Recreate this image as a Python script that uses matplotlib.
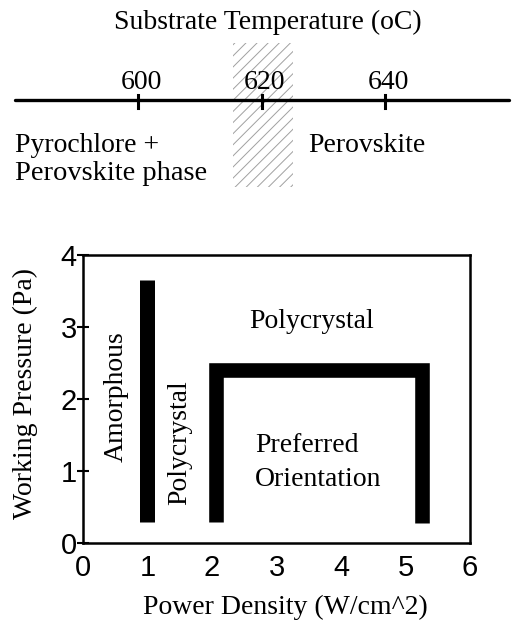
import matplotlib.pyplot as plt
from matplotlib.patches import Rectangle

plt.rcParams['font.family'] = ['Liberation Serif', 'DejaVu Serif']
plt.rcParams['hatch.color'] = '#a0a0a0'
plt.rcParams['hatch.linewidth'] = 0.7

# Substrate temperature scale (top panel)
temp_ticks = [600, 620, 640]
temp_line = [580, 660]
transition_band = [615.3, 625.1]
temp_title = 'Substrate Temperature (oC)'
low_phase = ['Pyrochlore +', 'Perovskite phase']
high_phase = 'Perovskite'

# Deposition map (bottom panel)
x_ticks = [0, 1, 2, 3, 4, 5, 6]
y_ticks = [0, 1, 2, 3, 4]
amorphous_x = [0.985, 0.985]
amorphous_y = [0.29, 3.65]
preferred_x = [2.055, 2.055, 5.26, 5.26]
preferred_y = [0.29, 2.40, 2.40, 0.28]

fig = plt.figure(figsize=(5.16, 6.24), dpi=100)

# ---- top panel: temperature line ----
top = fig.add_axes([0, 1 - 200 / 624, 1, 200 / 624])
top.set_xlim(577.65, 661.2)
top.set_ylim(0, 200)
top.axis('off')
top.plot(temp_line, [100, 100], color='black', lw=2.4, solid_capstyle='round')
for t in temp_ticks:
    top.plot([t, t], [92, 105], color='black', lw=2.2)
    top.text(t + 0.5, 105, str(t), ha='center', va='bottom', fontsize=20)
top.text(621, 178, temp_title, ha='center', va='center', fontsize=20)
top.add_patch(Rectangle((transition_band[0], 13), transition_band[1] - transition_band[0], 144,
                        facecolor='none', edgecolor='#a0a0a0', lw=0, hatch='///', zorder=0))
top.text(580, 55, low_phase[0], ha='left', va='center', fontsize=20)
top.text(580, 26, low_phase[1], ha='left', va='center', fontsize=20.5)
top.text(627.5, 54, high_phase, ha='left', va='center', fontsize=20)

# ---- bottom panel: pressure vs power density ----
ax = fig.add_axes([83 / 516, 1 - 543 / 624, 387 / 516, 288 / 624])
ax.set_xlim(0, 6)
ax.set_ylim(0, 4)
for s in ax.spines.values():
    s.set_linewidth(1.8)
ax.plot(amorphous_x, amorphous_y, color='black', lw=10.8, solid_capstyle='butt')
ax.plot(preferred_x, preferred_y, color='black', lw=10.5,
        solid_capstyle='butt', solid_joinstyle='miter')

ax.set_xticks(x_ticks)
ax.set_yticks(y_ticks)
ax.tick_params(axis='x', length=0, pad=8, labelsize=21)
ax.tick_params(axis='y', direction='inout', length=9, width=1.5, pad=0, labelsize=21)
for lab in ax.get_xticklabels() + ax.get_yticklabels():
    lab.set_family(['Liberation Sans', 'DejaVu Sans'])

ax.text(3.55, 3.08, 'Polycrystal', ha='center', va='center', fontsize=20)
ax.text(0.52, 2.03, 'Amorphous', ha='center', va='center', rotation=90, fontsize=20)
ax.text(1.5, 1.39, 'Polycrystal', ha='center', va='center', rotation=90, fontsize=20)
ax.text(2.67, 1.12, 'Preferred\nOrientation', ha='left', va='center', fontsize=20,
        linespacing=1.45)

ax.set_xlabel('Power Density (W/cm^2)', fontsize=20)
ax.xaxis.set_label_coords(0.522, -0.222)
ax.xaxis.label.set_va('center')
ax.set_ylabel('Working Pressure (Pa)', fontsize=20)
ax.yaxis.set_label_coords(-0.148, 0.52)
ax.yaxis.label.set_va('center')

fig.savefig('out.png', dpi=100)
